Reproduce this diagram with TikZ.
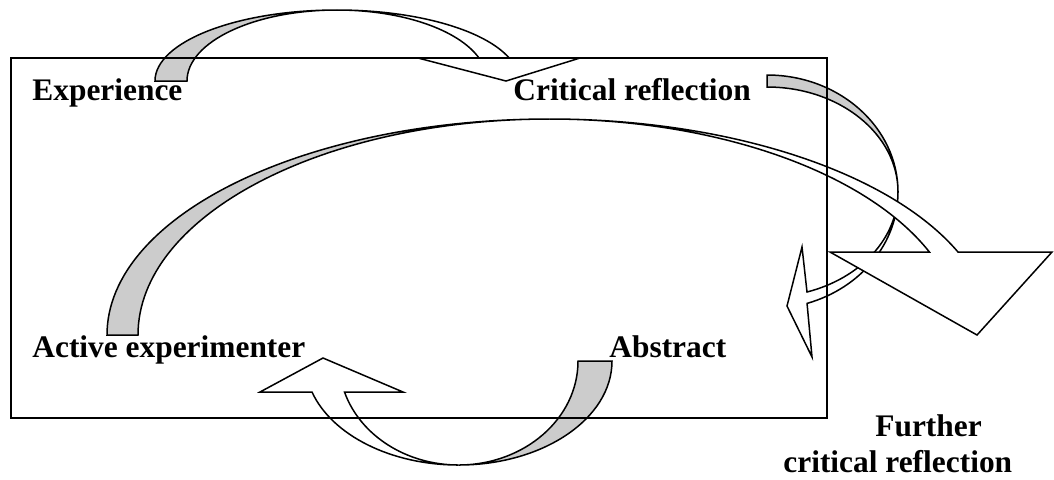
\documentclass[tikz,border=0pt]{standalone}
\usepackage{fontspec}
\setmainfont{Liberation Serif}
\begin{document}
\begin{tikzpicture}[x=0.5pt,y=-0.5pt,
  band/.style={draw=black,line width=0.75pt,line join=miter},
  backside/.style={band,fill=gray!40},
  frontside/.style={band,fill=white},
  lbl/.style={font=\fontsize{15.7}{18}\selectfont\bfseries,inner sep=0pt,anchor=base west}]
\useasboundingbox (0,0) rectangle (1054,479);

% arrow: critical reflection -> down (right side)
\path[backside] (767,75) arc[start angle=270,end angle=360,x radius=131,y radius=117]
  arc[start angle=0,end angle=-90,x radius=131,y radius=105] -- cycle;
\path[frontside] (898,192) arc[start angle=0,end angle=72.2,x radius=131,y radius=117]
  -- (812,357) -- (787,306) -- (802,247) -- (807,292)
  arc[start angle=72.2,end angle=0,x radius=131,y radius=105] -- cycle;

% arrow: experience -> critical reflection
\path[backside] (155,81) arc[start angle=180,end angle=270,x radius=182,y radius=71]
  arc[start angle=270,end angle=180,x radius=150,y radius=71] -- cycle;
\path[frontside] (337,10) arc[start angle=270,end angle=341.1,x radius=182,y radius=71]
  -- (580,58) -- (506,81) -- (418,58) -- (479,58)
  arc[start angle=341.1,end angle=270,x radius=150,y radius=71] -- cycle;

% arrow: abstract -> active experimenter
\path[backside] (612,361) arc[start angle=0,end angle=90,x radius=153.5,y radius=104]
  arc[start angle=90,end angle=0,x radius=119.5,y radius=104] -- cycle;
\path[frontside] (458.5,465) arc[start angle=90,end angle=162.66,x radius=153.5,y radius=104]
  -- (260,392) -- (323,358) -- (403,392) -- (344.5,392)
  arc[start angle=162.66,end angle=90,x radius=119.5,y radius=104] -- cycle;

% arrow: active experimenter -> further critical reflection
\path[backside] (107,335) arc[start angle=180,end angle=270,x radius=442.5,y radius=216]
  arc[start angle=270,end angle=180,x radius=411.5,y radius=216] -- cycle;
\path[frontside] (549.5,119) arc[start angle=270,end angle=337.4,x radius=442.5,y radius=216]
  -- (1052,252) -- (977,335) -- (830,252) -- (929.4,252)
  arc[start angle=337.4,end angle=270,x radius=411.5,y radius=216] -- cycle;

% frame
\draw[line width=0.75pt] (11,58) rectangle (827,418);

% labels
\node[lbl] (exp) at (32,100) {Experience};
\node[lbl] (crit) at (513,100) {Critical reflection};
\node[lbl] (act) at (32,357) {Active experimenter};
\node[lbl] (abs) at (609,357) {Abstract};
\node[lbl] (fur1) at (875,436) {Further};
\node[lbl] (fur2) at (783,472) {critical reflection};
\end{tikzpicture}
\end{document}
